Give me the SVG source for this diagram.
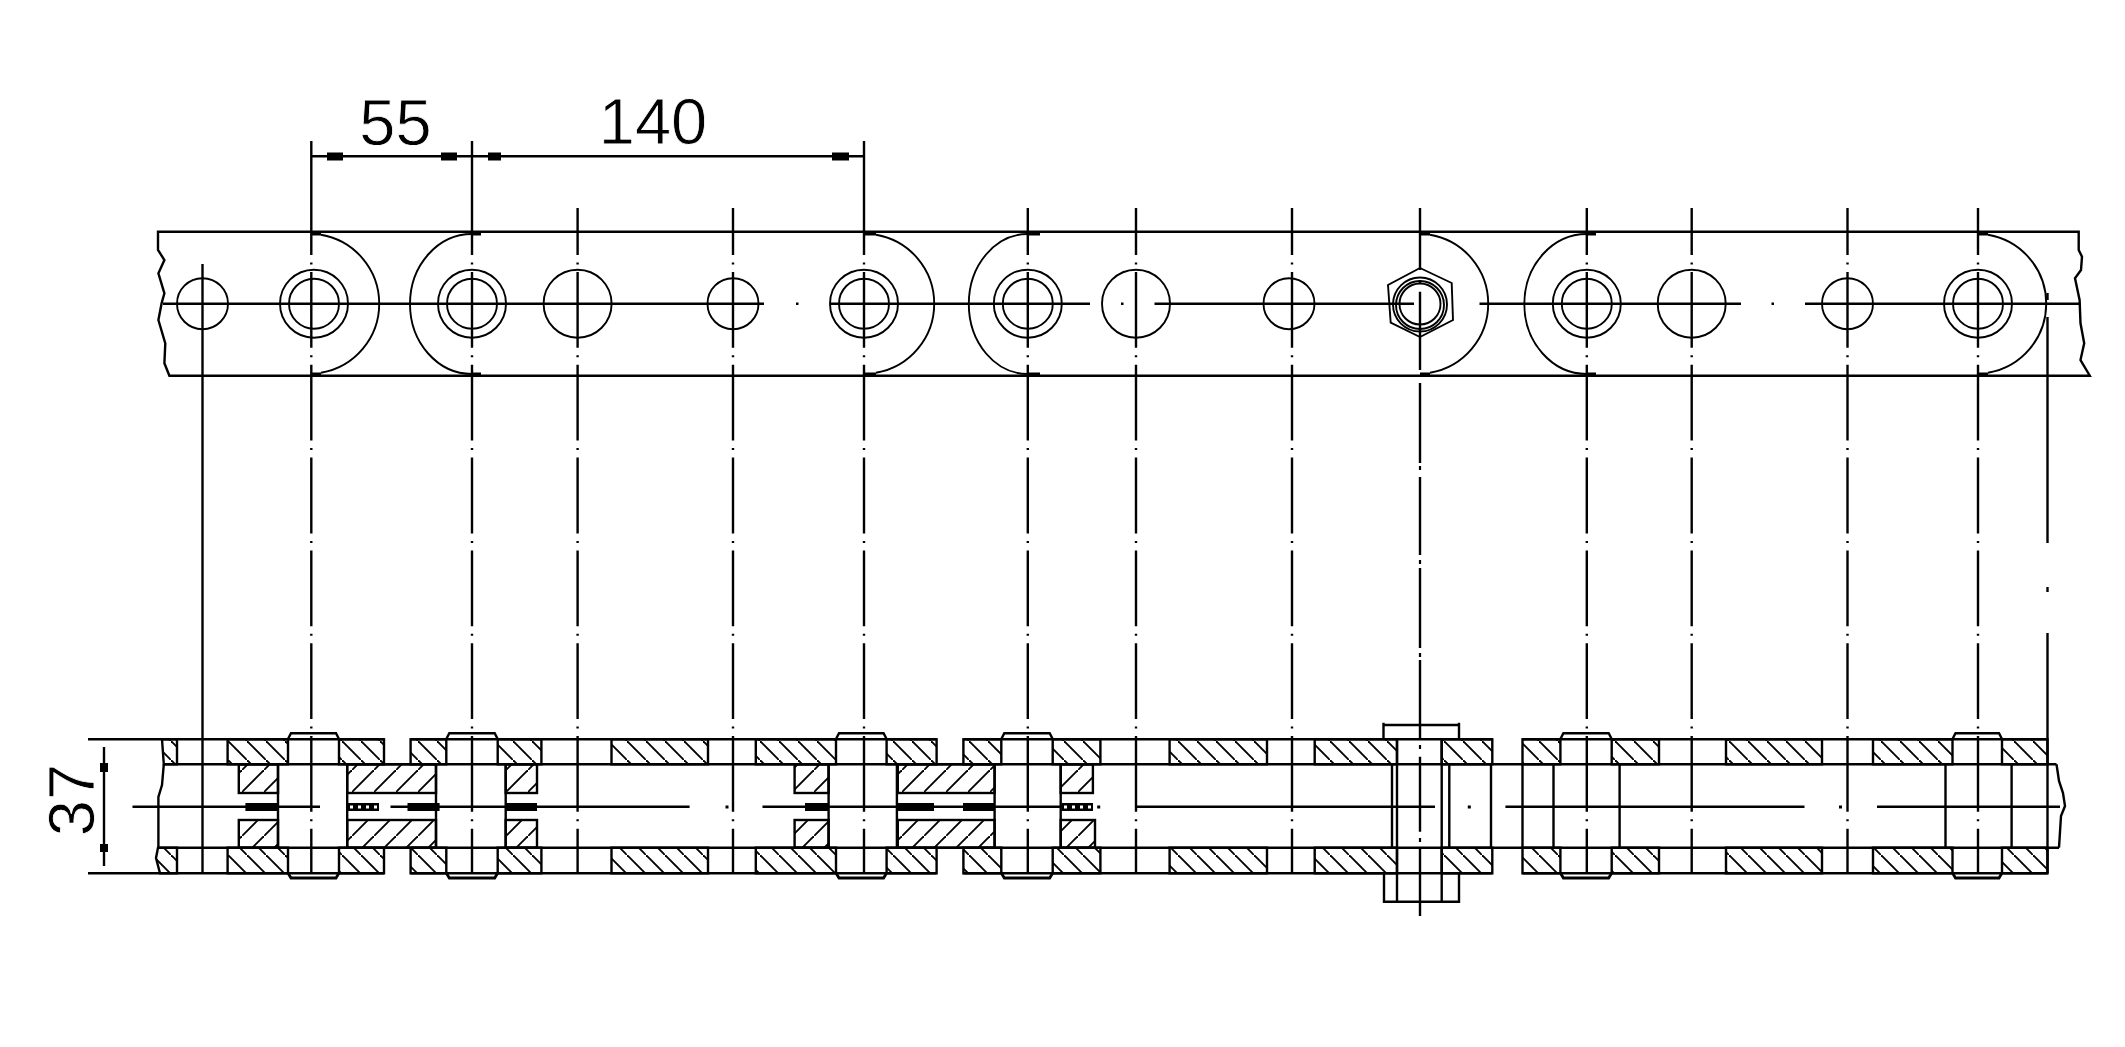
<svg xmlns="http://www.w3.org/2000/svg" width="2125" height="1047" viewBox="0 0 2125 1047">
<style>
.l{fill:none;stroke:#000;stroke-width:2.4}
.t{fill:none;stroke:#000;stroke-width:1.9}
.c{fill:none;stroke:#000;stroke-width:2.4;stroke-dasharray:75.8 7.5 2 7.5;stroke-dashoffset:28.8}
.h{fill:url(#ha);stroke:#000;stroke-width:2.4}
.i{fill:url(#hb);stroke:#000;stroke-width:2.4}
.b{fill:#000}
.n{font-family:"Liberation Sans",Arial,sans-serif;font-size:65px;fill:#000;stroke:#fff;stroke-width:.8px;text-anchor:middle}
</style>
<defs>
<pattern id="ha" width="19" height="19" patternUnits="userSpaceOnUse"><path d="M-3-3L22 22" stroke="#000" stroke-width="1.9" fill="none"/></pattern>
<pattern id="hb" width="22" height="22" patternUnits="userSpaceOnUse"><path d="M-3 25L25-3" stroke="#000" stroke-width="1.9" fill="none"/></pattern>
</defs>
<rect width="2125" height="1047" fill="#fff"/>

<g id="strip-outline">
<path class="l" d="M2078.7 231.7H158V250L164.4 260L158.4 273.3L164.4 293.3L161.6 303.3L158.4 320L165.3 343.3L164.4 363.3L169.4 375.7H2089.8L2080.5 360L2084.2 343.3L2080.5 323.3L2079.6 300L2075 278.3L2081 270L2082 256.7L2078.7 250Z"/>
<path class="l" d="M163 303.7H764M831 303.7H1090M1154.5 303.7H1414M1479.5 303.7H1741M1805 303.7H2080.5"/>
<path class="b" d="M796 302.5h2.5v2.5h-2.5zM1121 302.5h2.5v2.5h-2.5zM1771.5 302.5h2.5v2.5h-2.5z"/>
</g>

<g id="link-arcs">
<path class="t" d="M321 234.7A70 70 0 0 1 321 372.7M876 234.7A70 70 0 0 1 876 372.7M1430 234.7A70 70 0 0 1 1430 372.7M1988 234.7A70 70 0 0 1 1988 372.7"/>
<path class="t" d="M472 234A62 70 0 0 0 472 374M1027.8 234A59 70 0 0 0 1027.8 374M1586.8 234A62.5 70 0 0 0 1586.8 374"/>
<path class="b" d="M311 232.5h10v3h-10zM311 372.5h10v3h-10zM472 232.5h9v3h-9zM472 372.5h9v3h-9zM864 232.5h12v3h-12zM864 372.5h12v3h-12zM1028 232.5h12v3h-12zM1028 372.5h12v3h-12zM1420 232.5h10v3h-10zM1420 372.5h10v3h-10zM1587 232.5h9v3h-9zM1587 372.5h9v3h-9zM1978 232.5h10v3h-10zM1978 372.5h10v3h-10z"/>
</g>

<g id="holes">
<circle class="t" cx="202.5" cy="303.7" r="25.5"/>
<circle class="t" cx="314" cy="303.7" r="34"/><circle class="t" cx="314" cy="303.7" r="25"/>
<circle class="t" cx="472" cy="303.7" r="34"/><circle class="t" cx="472" cy="303.7" r="25"/>
<circle class="t" cx="577.6" cy="303.7" r="34"/>
<circle class="t" cx="733" cy="303.7" r="25.5"/>
<circle class="t" cx="864" cy="303.7" r="34"/><circle class="t" cx="864" cy="303.7" r="25"/>
<circle class="t" cx="1027.8" cy="303.7" r="34"/><circle class="t" cx="1027.8" cy="303.7" r="25"/>
<circle class="t" cx="1136" cy="303.7" r="34"/>
<circle class="t" cx="1289" cy="303.7" r="25.5"/>
<circle class="t" cx="1586.8" cy="303.7" r="34"/><circle class="t" cx="1586.8" cy="303.7" r="25"/>
<circle class="t" cx="1691.7" cy="303.7" r="34"/>
<circle class="t" cx="1847.5" cy="303.7" r="25.5"/>
<circle class="t" cx="1978" cy="303.7" r="34"/><circle class="t" cx="1978" cy="303.7" r="25"/>
</g>

<g id="nut">
<path class="t" d="M1420 268L1451.7 283L1453 320L1420 337L1390.7 322.7L1388 285Z"/>
<circle class="t" cx="1420" cy="304.5" r="27"/>
<circle class="t" cx="1420" cy="305" r="24"/>
<circle class="t" cx="1420" cy="304" r="20.5"/>
</g>

<g id="section-plates">
<path class="l" d="M88 739.3H384M410.6 739.3H936.6M963.4 739.3H1492.3M1522.5 739.3H2047.5M88 873.3H384M410.6 873.3H936.6M963.4 873.3H1492.3M1522.5 873.3H2047.5"/>
<path class="l" d="M163.8 764.3H2056.5M158.4 847.7H2059"/>
<path class="h" d="M162 739.3H177V764.3H163.8ZM158 847.7H177V873.3H160L156 858Z"/>
<rect class="h" x="227.6" y="739.3" width="60.4" height="25"/><rect class="h" x="227.6" y="847.7" width="60.4" height="25.6"/>
<rect class="h" x="339" y="739.3" width="45" height="25"/><rect class="h" x="339" y="847.7" width="45" height="25.6"/>
<rect class="h" x="410.6" y="739.3" width="35.7" height="25"/><rect class="h" x="410.6" y="847.7" width="35.7" height="25.6"/>
<rect class="h" x="497.7" y="739.3" width="43.7" height="25"/><rect class="h" x="497.7" y="847.7" width="43.7" height="25.6"/>
<rect class="h" x="611.5" y="739.3" width="96.5" height="25"/><rect class="h" x="611.5" y="847.7" width="96.5" height="25.6"/>
<rect class="h" x="755.8" y="739.3" width="80.2" height="25"/><rect class="h" x="755.8" y="847.7" width="80.2" height="25.6"/>
<rect class="h" x="886.6" y="739.3" width="50" height="25"/><rect class="h" x="886.6" y="847.7" width="50" height="25.6"/>
<rect class="h" x="963.4" y="739.3" width="37.9" height="25"/><rect class="h" x="963.4" y="847.7" width="37.9" height="25.6"/>
<rect class="h" x="1052.7" y="739.3" width="47.7" height="25"/><rect class="h" x="1052.7" y="847.7" width="47.7" height="25.6"/>
<rect class="h" x="1169.6" y="739.3" width="97.4" height="25"/><rect class="h" x="1169.6" y="847.7" width="97.4" height="25.6"/>
<rect class="h" x="1314.7" y="739.3" width="82.3" height="25"/><rect class="h" x="1314.7" y="847.7" width="82.3" height="25.6"/>
<rect class="h" x="1441.7" y="739.3" width="50.6" height="25"/><rect class="h" x="1441.7" y="847.7" width="50.6" height="25.6"/>
<rect class="h" x="1522.5" y="739.3" width="37.9" height="25"/><rect class="h" x="1522.5" y="847.7" width="37.9" height="25.6"/>
<rect class="h" x="1611.7" y="739.3" width="47.3" height="25"/><rect class="h" x="1611.7" y="847.7" width="47.3" height="25.6"/>
<rect class="h" x="1726" y="739.3" width="96" height="25"/><rect class="h" x="1726" y="847.7" width="96" height="25.6"/>
<rect class="h" x="1873" y="739.3" width="79.5" height="25"/><rect class="h" x="1873" y="847.7" width="79.5" height="25.6"/>
<rect class="h" x="2002" y="739.3" width="45.5" height="25"/><rect class="h" x="2002" y="847.7" width="45.5" height="25.6"/>
<path class="l" d="M163.8 764.3L162 785L158.4 797V847.7M2056.5 764.3L2059 781L2063 793L2065 806L2061 816L2059 847.7"/>
</g>

<g id="section-bushes">
<rect class="i" x="238.8" y="764.3" width="39.2" height="28.7"/><rect class="i" x="238.8" y="820" width="39.2" height="27.7"/>
<rect class="i" x="347.2" y="764.3" width="88.8" height="28.7"/><rect class="i" x="347.2" y="820" width="88.8" height="27.7"/>
<rect class="i" x="505.7" y="764.3" width="31.3" height="28.7"/><rect class="i" x="505.7" y="820" width="31.3" height="27.7"/>
<rect class="i" x="794.6" y="764.3" width="34" height="28.7"/><rect class="i" x="794.6" y="820" width="34" height="27.7"/>
<rect class="i" x="897.8" y="764.3" width="96.8" height="28.7"/><rect class="i" x="897.8" y="820" width="96.8" height="27.7"/>
<rect class="i" x="1060.7" y="764.3" width="32.2" height="28.7"/><rect class="i" x="1060.7" y="820" width="34.3" height="27.7"/>
<path class="l" d="M278 764.3V847.7M347.2 764.3V847.7M436 764.3V847.7M505.7 764.3V847.7M828.6 764.3V847.7M896.9 764.3V847.7M994.6 764.3V847.7M1060.7 764.3V847.7"/>
<path class="l" d="M1392 764.3V847.7M1449.3 764.3V847.7M1491 764.3V847.7M1522.5 764.3V847.7M1553.5 764.3V847.7M1619.6 764.3V847.7M1945.5 764.3V847.7M2011.6 764.3V847.7"/>
</g>

<g id="section-pins">
<path class="l" d="M288 739L291 733.3H336L339 739M446.3 739L449.3 733.3H494.7L497.7 739M836 739L839 733.3H883.6L886.6 739M1001.3 739L1004.3 733.3H1049.7L1052.7 739M1560.4 739L1563.4 733.3H1608.7L1611.7 739M1952.5 739L1955.5 733.3H1999L2002 739"/>
<path class="l" style="stroke-width:2.8" d="M288 873L291 878H336L339 873M446.3 873L449.3 878H494.7L497.7 873M836 873L839 878H883.6L886.6 873M1001.3 873L1004.3 878H1049.7L1052.7 873M1560.4 873L1563.4 878H1608.7L1611.7 873M1952.5 873L1955.5 878H1999L2002 873"/>
</g>

<g id="bolt">
<path class="l" d="M1383.5 739.3V722.7M1383.5 725H1459M1459 722.7V739.3"/>
<path class="l" d="M1384 873.3V901.7H1459V873.3M1397 739.3V901.7M1441.7 739.3V901.7"/>
</g>

<g id="section-centre">
<path class="l" d="M132.5 806.7H320M390.5 806.7H689.6M762.5 806.7H1061.6M1136.6 806.7H1435M1505.4 806.7H1804.5M1877 806.7H2060"/>
<path class="b" d="M245.4 803h32.6v8h-32.6zM348 803h31v8h-31zM407.5 803h32.1v8h-32.1zM505.7 803h31.3v8h-31.3zM805 803h23.6v8h-23.6zM897 803h37v8h-37zM963 803h31.6v8h-31.6zM1061.6 803h31.4v8h-31.4z"/>
<path d="M350 807H377M1064 807H1091" stroke="#fff" stroke-width="3" stroke-dasharray="3 5" fill="none"/>
<path class="b" d="M725.5 805.5h3v3h-3zM1097.2 805.5h3v3h-3zM1467.8 805.5h3v3h-3zM1839 805.5h3v3h-3z"/>
</g>

<g id="connectors">
<path class="l" d="M202.5 264V873.3"/>
<path class="l" d="M311.3 141V208M472 141V208M864 141V208"/>
<path class="c" d="M311.3 208V873.3M472 208V873.3M577.6 208V873.3M733 208V873.3M864 208V873.3M1027.8 208V873.3M1136 208V873.3M1292 208V873.3M1586.8 208V873.3M1691.7 208V873.3M1847.5 208V873.3M1978 208V873.3"/>
<path class="l" d="M1420 208V270M1420 280V284M1420 291.7V370M1420 383V463M1420 477V555M1420 568V648M1420 660V740M1420 756.7V831.7M1420 848.3V916"/>
<path class="b" d="M1418.9 466h2.2v4h-2.2zM1418.9 560h2.2v4h-2.2zM1418.9 653h2.2v4h-2.2zM1418.9 745h2.2v4h-2.2zM1418.9 838h2.2v4h-2.2z"/>
<path class="l" d="M2047.5 293V300M2047.5 317V543M2047.5 587V592M2047.5 633V873.3"/>
</g>

<g id="dim-55-140">
<path class="l" d="M311.3 156.3H864"/>
<path class="b" d="M327 152.5h16v8h-16zM441 152.5h16v8h-16zM488 152.5h13v8h-13zM832 152.5h17v8h-17z"/>
<text class="n" x="395.5" y="145">55</text>
<text class="n" x="653" y="144">140</text>
</g>

<g id="dim-37">
<path class="l" d="M104 747V866"/>
<path class="b" d="M100 763h8v9h-8zM100 844h8v8h-8z"/>
<text class="n" transform="translate(94 800) rotate(-90)">37</text>
</g>
</svg>
